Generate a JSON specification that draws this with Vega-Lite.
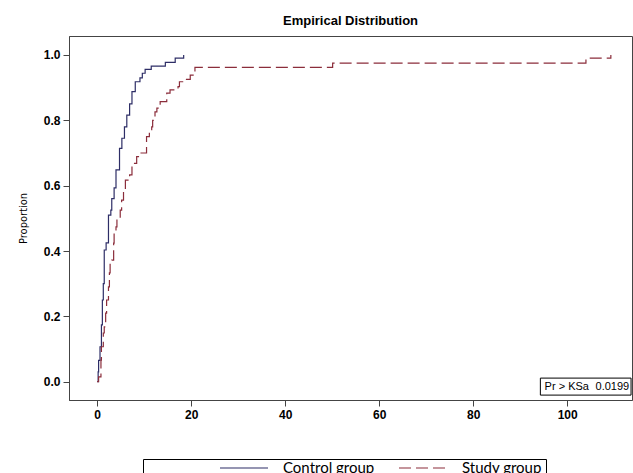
{
  "$schema": "https://vega.github.io/schema/vega-lite/v6.json",
  "width": 563,
  "height": 364,
  "autosize": {"type": "none"},
  "padding": {"left": 69, "top": 36, "right": 1, "bottom": 73},
  "background": "white",
  "title": {"text": "Empirical Distribution", "font": "Liberation Sans", "fontSize": 13, "fontWeight": "bold", "color": "#000", "anchor": "middle", "offset": 8},
  "config": {
    "view": {"stroke": "#444", "strokeWidth": 1},
    "axis": {"grid": false, "domainColor": "#444", "tickColor": "#444", "tickSize": 6, "labelFont": "Liberation Sans", "labelFontSize": 12, "labelFontWeight": "bold", "labelColor": "#000"},
    "legend": {"clipHeight": 10}
  },
  "datasets": {
    "ecdf": [
      {"group": "Control group", "x": 0, "p": 0},
      {"group": "Control group", "x": 0.2, "p": 0.03},
      {"group": "Control group", "x": 0.3, "p": 0.065},
      {"group": "Control group", "x": 0.6, "p": 0.107},
      {"group": "Control group", "x": 0.9, "p": 0.174},
      {"group": "Control group", "x": 1.1, "p": 0.25},
      {"group": "Control group", "x": 1.3, "p": 0.3},
      {"group": "Control group", "x": 1.5, "p": 0.403},
      {"group": "Control group", "x": 1.9, "p": 0.425},
      {"group": "Control group", "x": 2.4, "p": 0.51},
      {"group": "Control group", "x": 2.9, "p": 0.525},
      {"group": "Control group", "x": 3.1, "p": 0.56},
      {"group": "Control group", "x": 3.6, "p": 0.593},
      {"group": "Control group", "x": 4.0, "p": 0.648},
      {"group": "Control group", "x": 4.75, "p": 0.714},
      {"group": "Control group", "x": 5.25, "p": 0.745},
      {"group": "Control group", "x": 5.8, "p": 0.78},
      {"group": "Control group", "x": 6.3, "p": 0.816},
      {"group": "Control group", "x": 6.9, "p": 0.85},
      {"group": "Control group", "x": 7.4, "p": 0.888},
      {"group": "Control group", "x": 8.1, "p": 0.918},
      {"group": "Control group", "x": 9.1, "p": 0.93},
      {"group": "Control group", "x": 9.6, "p": 0.944},
      {"group": "Control group", "x": 10.2, "p": 0.956},
      {"group": "Control group", "x": 11.5, "p": 0.966},
      {"group": "Control group", "x": 14.5, "p": 0.977},
      {"group": "Control group", "x": 16.6, "p": 0.99},
      {"group": "Control group", "x": 18.4, "p": 1.0},
      {"group": "Study group", "x": 0, "p": 0},
      {"group": "Study group", "x": 0.3, "p": 0.015},
      {"group": "Study group", "x": 0.8, "p": 0.066},
      {"group": "Study group", "x": 0.9, "p": 0.107},
      {"group": "Study group", "x": 1.3, "p": 0.149},
      {"group": "Study group", "x": 1.5, "p": 0.168},
      {"group": "Study group", "x": 1.8, "p": 0.21},
      {"group": "Study group", "x": 2.0, "p": 0.25},
      {"group": "Study group", "x": 2.4, "p": 0.29},
      {"group": "Study group", "x": 2.6, "p": 0.333},
      {"group": "Study group", "x": 2.75, "p": 0.363},
      {"group": "Study group", "x": 3.1, "p": 0.372},
      {"group": "Study group", "x": 3.5, "p": 0.424},
      {"group": "Study group", "x": 3.6, "p": 0.454},
      {"group": "Study group", "x": 4.0, "p": 0.474},
      {"group": "Study group", "x": 4.2, "p": 0.5},
      {"group": "Study group", "x": 4.9, "p": 0.525},
      {"group": "Study group", "x": 5.2, "p": 0.556},
      {"group": "Study group", "x": 5.6, "p": 0.587},
      {"group": "Study group", "x": 6.0, "p": 0.617},
      {"group": "Study group", "x": 6.9, "p": 0.633},
      {"group": "Study group", "x": 7.4, "p": 0.668},
      {"group": "Study group", "x": 8.4, "p": 0.689},
      {"group": "Study group", "x": 9.1, "p": 0.7},
      {"group": "Study group", "x": 10.5, "p": 0.75},
      {"group": "Study group", "x": 11.1, "p": 0.765},
      {"group": "Study group", "x": 11.6, "p": 0.78},
      {"group": "Study group", "x": 11.8, "p": 0.8},
      {"group": "Study group", "x": 12.3, "p": 0.826},
      {"group": "Study group", "x": 12.7, "p": 0.837},
      {"group": "Study group", "x": 13.4, "p": 0.857},
      {"group": "Study group", "x": 14.8, "p": 0.883},
      {"group": "Study group", "x": 15.5, "p": 0.893},
      {"group": "Study group", "x": 17.2, "p": 0.903},
      {"group": "Study group", "x": 17.5, "p": 0.918},
      {"group": "Study group", "x": 19.0, "p": 0.925},
      {"group": "Study group", "x": 19.8, "p": 0.938},
      {"group": "Study group", "x": 20.8, "p": 0.962},
      {"group": "Study group", "x": 50.1, "p": 0.975},
      {"group": "Study group", "x": 104.0, "p": 0.99},
      {"group": "Study group", "x": 109.3, "p": 1.0}
    ],
    "box": [{"x1": 94.3, "x2": 113.6, "y1": -0.041, "y2": 0.011}],
    "noteL": [{"label": "Pr > KSa", "x": 95.2, "y": -0.015}],
    "noteR": [{"label": "0.0199", "x": 113.2, "y": -0.015}]
  },
  "layer": [
    {
      "data": {"name": "ecdf"},
      "mark": {"type": "line", "interpolate": "step-after", "strokeWidth": 1.2},
      "encoding": {
        "x": {"field": "x", "type": "quantitative", "scale": {"domain": [-6, 113.8], "nice": false, "zero": false}, "axis": {"values": [0, 20, 40, 60, 80, 100], "title": null, "labelPadding": 3}},
        "y": {"field": "p", "type": "quantitative", "scale": {"domain": [-0.056, 1.058], "nice": false, "zero": false}, "axis": {"values": [0, 0.2, 0.4, 0.6, 0.8, 1.0], "format": ".1f", "title": "Proportion", "titleFont": "DejaVu Sans Condensed, Liberation Sans, sans-serif", "titleFontWeight": "normal", "titleFontSize": 11, "titleColor": "#000", "titlePadding": 15, "labelPadding": 3}},
        "color": {"field": "group", "type": "nominal", "scale": {"domain": ["Control group", "Study group"], "range": ["#2d2d66", "#8b2d3b"]}, "legend": {"title": "\u00a0", "titleOrient": "left", "titlePadding": 72, "titleFontSize": 15, "orient": "none", "legendX": 74, "legendY": 423, "direction": "horizontal", "strokeColor": "#000", "padding": 4, "symbolType": "stroke", "symbolSize": 2304, "symbolStrokeWidth": 1.2, "labelOffset": 14, "columnPadding": 23, "labelFont": "Lato", "labelFontSize": 15, "labelColor": "#000"}},
        "strokeDash": {"field": "group", "type": "nominal", "scale": {"domain": ["Control group", "Study group"], "range": [[1, 0], [12, 5]]}, "legend": {"title": "\u00a0", "titleOrient": "left", "titlePadding": 72, "titleFontSize": 15, "orient": "none", "legendX": 74, "legendY": 423, "direction": "horizontal", "strokeColor": "#000", "padding": 4, "symbolType": "stroke", "symbolSize": 2304, "symbolStrokeWidth": 1.2, "labelOffset": 14, "columnPadding": 23, "labelFont": "Lato", "labelFontSize": 15, "labelColor": "#000"}}
      }
    },
    {
      "data": {"name": "box"},
      "mark": {"type": "rect", "fill": "white", "stroke": "#000", "strokeWidth": 1},
      "encoding": {
        "x": {"field": "x1", "type": "quantitative"},
        "x2": {"field": "x2"},
        "y": {"field": "y1", "type": "quantitative"},
        "y2": {"field": "y2"}
      }
    },
    {
      "data": {"name": "noteL"},
      "mark": {"type": "text", "font": "Liberation Sans", "fontSize": 11, "color": "#000", "baseline": "middle", "align": "left"},
      "encoding": {
        "x": {"field": "x", "type": "quantitative"},
        "y": {"field": "y", "type": "quantitative"},
        "text": {"field": "label"}
      }
    },
    {
      "data": {"name": "noteR"},
      "mark": {"type": "text", "font": "Liberation Sans", "fontSize": 11, "color": "#000", "baseline": "middle", "align": "right"},
      "encoding": {
        "x": {"field": "x", "type": "quantitative"},
        "y": {"field": "y", "type": "quantitative"},
        "text": {"field": "label"}
      }
    }
  ]
}
